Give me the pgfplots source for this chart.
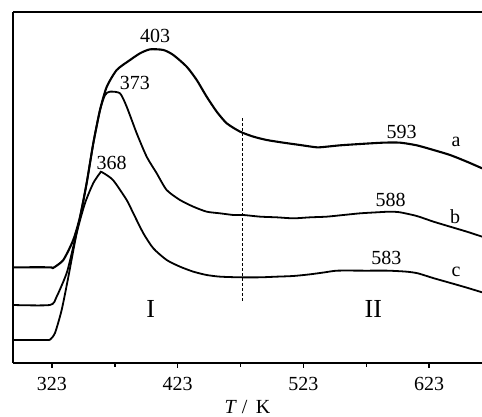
\documentclass[border=0pt]{standalone}
\usepackage{fontspec}
\setmainfont{Liberation Serif}
\usepackage{pgfplots}
\pgfplotsset{compat=1.18}
\begin{document}
\begin{tikzpicture}[font=\fontsize{10}{12}\selectfont]
\begin{axis}[
  scale only axis, width=234.5pt, height=175.5pt,
  xmin=292, xmax=665, ymin=0, ymax=1053,
  axis x line*=box, axis y line*=left,
  axis line style={-, line width=0.8pt},
  xtick={323,423,523,623},
  extra x ticks={373,473,573}, extra x tick labels={},
  extra x tick style={major tick length=2pt, tick style={line width=0.8pt, black}},
  xtick pos=left, ytick=\empty,
  tick align=outside, major tick length=2.5pt,
  tick style={line width=0.7pt, black},
  /pgf/number format/assume math mode=true,
  xticklabel style={/pgf/number format/1000 sep={}, yshift=-1pt},
  xlabel={\textit{T} /\, K},
  xlabel style={yshift=6.5pt},
  clip=false,
]
\coordinate (bb1) at (rel axis cs:0,0);
\coordinate (bb2) at (rel axis cs:1,1);
% curve a
\addplot[black, line width=1.05pt, smooth, tension=0.4] coordinates {
(292,287) (321.4,287) (323.8,285) (332.0,309) (339.9,369) (345.3,438) (350.6,540)
(355.9,660) (361.2,759) (366.5,828) (374.5,879) (385.1,909) (393.0,929) (401.0,941)
(411.6,939) (419.5,924) (430.1,889) (438.1,849) (446.0,799) (454.0,754) (462.0,719)
(472.6,694) (483.2,679) (493.8,669) (507.0,661) (520.3,654) (533.6,647) (541.5,649)
(552.1,653) (568.0,657) (586.6,661) (599.8,661) (613.1,653) (626.4,639) (639.6,624)
(652.9,604) (665.1,584)
};
% curve b
\addplot[black, line width=0.9pt, smooth, tension=0.4] coordinates {
(292,174) (321.4,174) (326.7,199) (334.7,270) (339.9,348) (345.3,438) (350.6,540)
(355.9,660) (361.2,759) (365.2,804) (369.1,814) (377.1,809) (382.4,769) (390.4,689)
(398.3,619) (406.3,569) (414.2,519) (424.8,489) (435.4,469) (446.0,454) (456.7,449)
(467.3,444) (475.2,444) (488.5,439) (501.7,437) (515.0,434) (528.3,437) (541.5,439)
(554.8,444) (568.0,449) (581.3,452) (591.9,454) (599.9,452) (613.1,441) (626.4,424)
(639.6,409) (652.9,394) (665.1,379)
};
% curve c
\addplot[black, line width=0.9pt, smooth, tension=0.4] coordinates {
(292,69) (318.0,69) (321.4,70) (325.4,90) (330.7,159) (336.0,258) (342.7,390)
(349.3,480) (355.9,540) (361.2,570) (362.5,573) (371.5,549) (382.4,489) (387.7,449)
(395.7,389) (403.6,344) (414.2,309) (424.8,289) (435.4,274) (446.0,264) (456.7,259)
(472.6,257) (488.5,257) (501.7,259) (515.0,261) (528.3,266) (540.0,272) (550.0,277)
(573.0,277) (590.0,277) (605.0,274) (614.0,269) (626.0,255) (640.0,240) (652.0,227)
(665.1,212)
};
% dashed divider
\addplot[black, line width=0.45pt, dash pattern=on 1.5pt off 1pt] coordinates {(474.4,734) (474.4,184)};
\node at (axis cs:405,981) {403};
\node at (axis cs:389,839) {373};
\node at (axis cs:370.5,599) {368};
\node at (axis cs:601,694) {593};
\node at (axis cs:592.4,489) {588};
\node at (axis cs:589,316) {583};
\node at (axis cs:644.4,664) {a};
\node at (axis cs:643.6,439) {b};
\node at (axis cs:644.4,274) {c};
\node[font=\fontsize{13}{15}\selectfont] at (axis cs:401.5,161) {I};
\node[font=\fontsize{13}{15}\selectfont] at (axis cs:578.6,161) {II};
\end{axis}
\pgfresetboundingbox
\path ([xshift=-6.5pt,yshift=-27pt]bb1) rectangle ([yshift=6pt]bb2);
\end{tikzpicture}
\end{document}
